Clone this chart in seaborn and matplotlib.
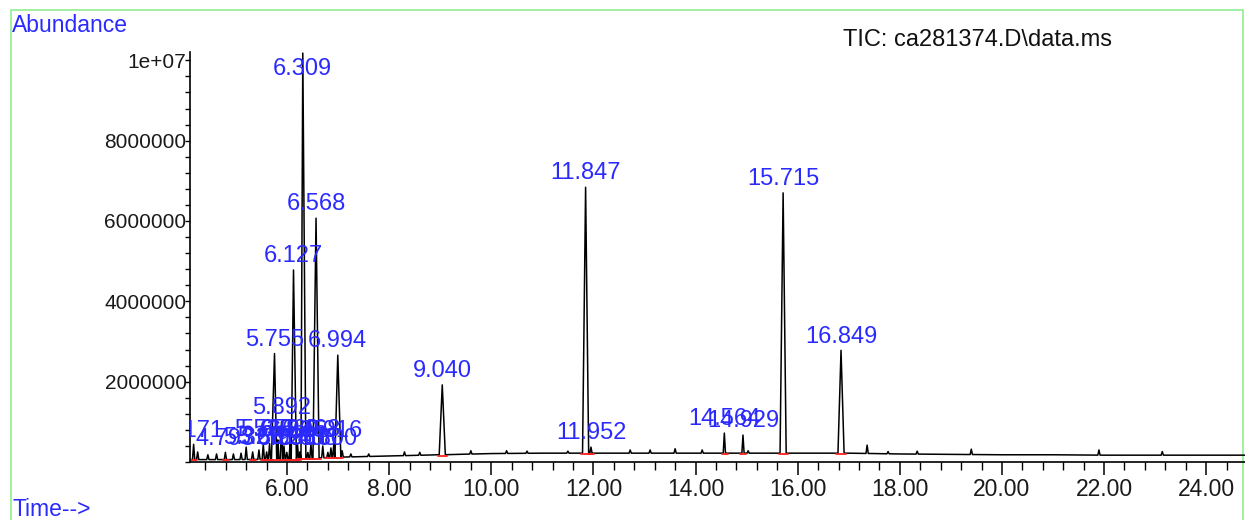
import numpy as np
import pandas as pd
import matplotlib
matplotlib.use("Agg")
import matplotlib.pyplot as plt
from matplotlib.ticker import MultipleLocator, FixedLocator
from matplotlib.patches import Rectangle
import seaborn as sns

# ---------------- data ----------------
baseline_t = [4.10, 5.0, 6.0, 7.0, 8.0, 9.0, 10.0, 11.0, 12.0, 13.0, 14.0,
              15.0, 16.0, 17.0, 18.0, 19.0, 20.0, 21.0, 22.0, 23.0, 24.76]
baseline_y = [0.06e6, 0.06e6, 0.07e6, 0.12e6, 0.15e6, 0.18e6, 0.21e6, 0.22e6,
              0.22e6, 0.22e6, 0.22e6, 0.22e6, 0.22e6, 0.22e6, 0.20e6, 0.19e6,
              0.18e6, 0.18e6, 0.17e6, 0.17e6, 0.17e6]

# labelled peaks
peak_t = [5.755, 5.892, 6.127, 6.309, 6.568, 6.994, 9.040, 11.847, 11.952,
          14.564, 14.929, 15.715, 16.849,
          4.171, 5.535, 5.658, 6.060, 6.205, 6.468, 6.916,
          4.793, 5.327, 5.601, 5.996, 6.251, 6.408, 6.800]
peak_h = [2.70e6, 1.00e6, 4.78e6, 1.018e7, 6.07e6, 2.66e6, 1.92e6, 6.84e6, 0.37e6,
          0.72e6, 0.67e6, 6.70e6, 2.78e6,
          0.44e6, 0.45e6, 0.46e6, 0.45e6, 0.44e6, 0.45e6, 0.44e6,
          0.24e6, 0.25e6, 0.25e6, 0.24e6, 0.25e6, 0.24e6, 0.24e6]
peak_labels = ["5.755", "5.892", "6.127", "6.309", "6.568", "6.994", "9.040",
               "11.847", "11.952", "14.564", "14.929", "15.715", "16.849",
               "4.171", "5.535", "5.658", "6.060", "6.205", "6.468", "6.916",
               "4.793", "5.327", "5.601", "5.996", "6.251", "6.408", "6.800"]

# unlabelled small bumps
minor_t = [4.25, 4.45, 4.62, 4.95, 5.10, 5.20, 5.45, 5.82, 5.94, 6.70, 6.86,
           7.08, 7.25, 7.60, 8.30, 8.60, 9.60, 10.30, 10.70, 11.50, 12.72,
           13.11, 13.60, 14.13, 15.03, 17.36, 17.77, 18.34, 19.40, 21.90, 23.14]
minor_h = [0.25e6, 0.18e6, 0.20e6, 0.20e6, 0.22e6, 0.37e6, 0.30e6, 0.55e6,
           0.40e6, 0.40e6, 0.35e6, 0.28e6, 0.20e6, 0.20e6, 0.25e6, 0.24e6,
           0.28e6, 0.28e6, 0.27e6, 0.27e6, 0.30e6, 0.30e6, 0.33e6, 0.30e6,
           0.28e6, 0.42e6, 0.26e6, 0.27e6, 0.32e6, 0.30e6, 0.26e6]

y_tick_values = [2e6, 4e6, 6e6, 8e6, 1e7]
y_tick_labels = ["2000000", "4000000", "6000000", "8000000", "1e+07"]

# ---------------- build trace ----------------
def width(h):
    return 0.06 if h > 1.5e6 else 0.022

windows = [(t - width(h), t + width(h)) for t, h in zip(peak_t + minor_t, peak_h + minor_h)]
pts = [(t, y) for t, y in zip(baseline_t, baseline_y)
       if not any(a <= t <= b for a, b in windows)]
for t, h in zip(peak_t + minor_t, peak_h + minor_h):
    w = width(h)
    foot = float(np.interp(t, baseline_t, baseline_y))
    pts += [(t - w, foot), (t, h), (t + w, foot)]
trace = pd.DataFrame(pts, columns=["time", "abundance"]).sort_values("time")

red_rows = []
for i, (t, h) in enumerate(zip(peak_t, peak_h)):
    w = width(h)
    foot = float(np.interp(t, baseline_t, baseline_y)) - 0.02e6
    red_rows += [(i, t - w - 0.03, foot), (i, t + w + 0.04, foot)]
red = pd.DataFrame(red_rows, columns=["pk", "time", "abundance"])

# ---------------- plot ----------------
sns.set_style("ticks")
plt.rcParams["font.family"] = ["Liberation Sans", "DejaVu Sans"]

fig = plt.figure(figsize=(12.45, 5.2), dpi=100)
ax = fig.add_axes([190 / 1245, 1 - 462 / 520, 1 - 190 / 1245, (462 - 52) / 520])

sns.lineplot(data=trace, x="time", y="abundance", sort=True, estimator=None,
             color="black", lw=1.1, ax=ax)
sns.lineplot(data=red, x="time", y="abundance", units="pk", estimator=None,
             color="#ff2020", lw=1.3, ax=ax)

blue = "#2a2aff"
for t, h, lab in zip(peak_t, peak_h, peak_labels):
    ax.annotate(lab, (t, min(h, 9.45e6)), xytext=(0, 2), textcoords="offset points",
                ha="center", va="bottom", color=blue, fontsize=17, clip_on=True,
                annotation_clip=False)

ax.set_xlim(4.10, 24.76)
ax.set_ylim(0, 1.0207e7)
ax.xaxis.set_major_locator(MultipleLocator(2))
ax.xaxis.set_minor_locator(MultipleLocator(0.4))
ax.xaxis.set_major_formatter(matplotlib.ticker.FormatStrFormatter("%.2f"))
ax.yaxis.set_major_locator(FixedLocator(y_tick_values))
ax.set_yticklabels(y_tick_labels)
ax.yaxis.set_minor_locator(MultipleLocator(0.4e6))
ax.set_xlabel("")
ax.set_ylabel("")
for s in ["top", "right"]:
    ax.spines[s].set_visible(False)
for s in ["left", "bottom"]:
    ax.spines[s].set_color("black")
    ax.spines[s].set_linewidth(1.2)
ax.tick_params(axis="x", which="major", length=9.5, width=1.1, pad=2,
               labelsize=16.5, colors="black", labelcolor="#1a1a1a")
ax.tick_params(axis="x", which="minor", length=5.5, width=1.0, colors="black")
ax.tick_params(axis="y", which="both", length=3.5, width=1.0, pad=-1,
               labelsize=15, colors="black", labelcolor="#1a1a1a")
ax.patch.set_alpha(0)

fig.text(12 / 1245, 1 - 26 / 520, "Abundance", color=blue, fontsize=16.5,
         ha="left", va="center")
fig.text(12 / 1245, 1 - 510 / 520, "Time-->", color=blue, fontsize=16.5,
         ha="left", va="center")
fig.text(843 / 1245, 1 - 40 / 520, "TIC: ca281374.D\\data.ms", color="#111111",
         fontsize=17, ha="left", va="center")

fig.patches.append(Rectangle((11 / 1245, -0.1), (1243 - 11) / 1245, 1.1 - 10 / 520,
                             transform=fig.transFigure, fill=False,
                             edgecolor="#90ee90", lw=1.2, zorder=-1))

fig.savefig("out.png", dpi=100)
